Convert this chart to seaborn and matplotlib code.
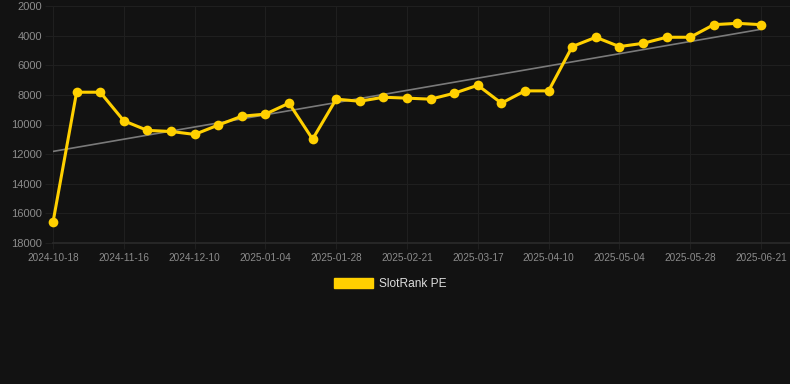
import numpy as np
import pandas as pd
import matplotlib
matplotlib.use("Agg")
import matplotlib.pyplot as plt
from matplotlib.patches import Patch
import seaborn as sns

# Data (rank, lower is better -> inverted axis)
dates = [
    "2024-10-18", "2024-10-27", "2024-11-06", "2024-11-16", "2024-11-24",
    "2024-12-02", "2024-12-10", "2024-12-18", "2024-12-26", "2025-01-04",
    "2025-01-12", "2025-01-20", "2025-01-28", "2025-02-05", "2025-02-13",
    "2025-02-21", "2025-03-01", "2025-03-09", "2025-03-17", "2025-03-25",
    "2025-04-02", "2025-04-10", "2025-04-18", "2025-04-26", "2025-05-04",
    "2025-05-12", "2025-05-20", "2025-05-28", "2025-06-05", "2025-06-13",
    "2025-06-21",
]
ranks = [
    16600, 7820, 7820, 9750, 10400, 10470, 10670, 10040, 9440, 9300,
    8560, 10990, 8290, 8430, 8160, 8220, 8290, 7890, 7350, 8560,
    7730, 7730, 4740, 4110, 4740, 4520, 4110, 4110, 3260, 3170,
    3260,
]
y_ticks = [2000, 4000, 6000, 8000, 10000, 12000, 14000, 16000, 18000]
series_name = "SlotRank PE"

df = pd.DataFrame({"date": dates, "rank": ranks})
df["pos"] = range(len(df))

bg = "#121212"
grid_col = "#1f1f1f"
tick_col = "#8c8c8c"
yellow = "#ffd000"

sns.set_theme(style="dark")
plt.rcParams["font.family"] = ["Liberation Sans", "DejaVu Sans"]

fig = plt.figure(figsize=(7.9, 3.84), dpi=100, facecolor=bg)
ax = fig.add_axes([53 / 790, 1 - 243 / 384, 737 / 790, 237 / 384])
ax.set_facecolor(bg)

# trend line (least squares fit)
sns.regplot(data=df, x="pos", y="rank", scatter=False, ci=None, ax=ax,
            line_kws={"color": "#7a7a7a", "linewidth": 1.2, "zorder": 2})

sns.lineplot(data=df, x="pos", y="rank", ax=ax, color=yellow, linewidth=2.2,
             marker="o", markersize=7, markeredgewidth=0, zorder=3, clip_on=False)

last = len(df) - 1
ax.set_xlim(0, last * 737 / 708)
ax.set_ylim(18000, 2000)
ax.set_yticks(y_ticks)
ax.set_xticks(df["pos"][::3])
ax.set_xticklabels(df["date"][::3])

ax.grid(True, color=grid_col, linewidth=0.8)
ax.tick_params(axis="y", colors=tick_col, labelsize=8, length=6, width=0.8,
               color=grid_col, pad=2, left=True)
ax.tick_params(axis="x", colors=tick_col, labelsize=7.2, length=4, width=0.8,
               color=grid_col, pad=3, bottom=True)
for lab in ax.get_xticklabels() + ax.get_yticklabels():
    lab.set_color(tick_col)
for side in ["top", "right", "left"]:
    ax.spines[side].set_visible(False)
ax.spines["bottom"].set_color("#2a2a2a")
ax.set_xlabel("")
ax.set_ylabel("")

handle = Patch(facecolor=yellow, edgecolor=yellow)
fig.legend([handle], [series_name], loc="center", bbox_to_anchor=(390 / 790, 1 - 284 / 384),
           frameon=False, fontsize=8.6, labelcolor="#dddddd",
           handlelength=3.3, handleheight=1.0, handletextpad=0.5)

fig.savefig("out.png", dpi=100, facecolor=bg)
